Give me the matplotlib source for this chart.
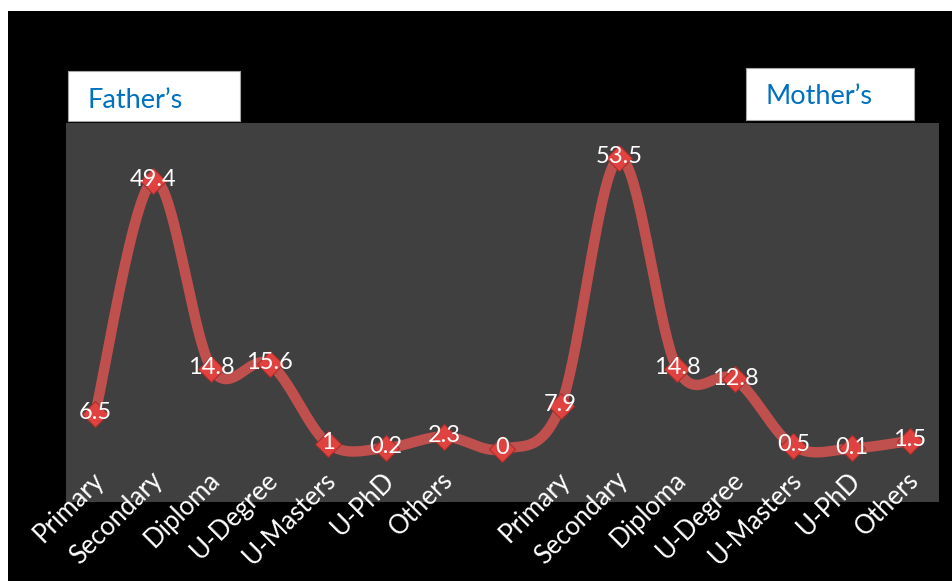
import matplotlib.pyplot as plt
import numpy as np
from matplotlib.patches import Rectangle
from matplotlib.transforms import ScaledTranslation

# education levels of father and mother (%), with a zero spacer between groups
levels = ["Primary", "Secondary", "Diploma", "U-Degree", "U-Masters", "U-PhD", "Others"]
father = [6.5, 49.4, 14.8, 15.6, 1, 0.2, 2.3]
mother = [7.9, 53.5, 14.8, 12.8, 0.5, 0.1, 1.5]
spacer = [0]

values = father + spacer + mother
labels = levels + [""] + levels

plt.rcParams['font.family'] = ['Lato', 'DejaVu Sans']

fig = plt.figure(figsize=(9.53, 5.81), dpi=100)
fig.patch.set_facecolor("white")
W, H = 953, 581
fig.patches.append(Rectangle((8 / W, 0), 1, (H - 11) / H, transform=fig.transFigure,
                             facecolor="black", edgecolor="none", zorder=-10))

ax = fig.add_axes([66 / W, (H - 502) / H, 873 / W, 379 / H])
ax.set_facecolor("#404040")
for s in ax.spines.values():
    s.set_visible(False)

x = np.arange(len(values))
y = np.array(values, dtype=float)


# smoothed line: cubic bezier segments with catmull-rom style control points
def smooth(xs, ys, n=40):
    px, py = [], []
    m = len(xs)
    for i in range(m - 1):
        x0, y0 = xs[i], ys[i]
        x3, y3 = xs[i + 1], ys[i + 1]
        xp, yp = (xs[i - 1], ys[i - 1]) if i > 0 else (x0, y0)
        xn, yn = (xs[i + 2], ys[i + 2]) if i + 2 < m else (x3, y3)
        x1, y1 = x0 + (x3 - xp) / 6, y0 + (y3 - yp) / 6
        x2, y2 = x3 - (xn - x0) / 6, y3 - (yn - y0) / 6
        t = np.linspace(0, 1, n)
        bx = (1 - t) ** 3 * x0 + 3 * (1 - t) ** 2 * t * x1 + 3 * (1 - t) * t ** 2 * x2 + t ** 3 * x3
        by = (1 - t) ** 3 * y0 + 3 * (1 - t) ** 2 * t * y1 + 3 * (1 - t) * t ** 2 * y2 + t ** 3 * y3
        px.extend(bx)
        py.extend(by)
    return np.array(px), np.array(py)


sx, sy = smooth(x, y)
ax.plot(sx, sy, color="#C0504D", lw=7.5, solid_capstyle="round", zorder=2)
ax.plot(x, y, linestyle="none", marker="D", markersize=13, color="#E0433F",
        markeredgecolor="#A82F2C", markeredgewidth=0.8, zorder=3)

for xi, yi in zip(x, y):
    ax.annotate(f"{yi:g}", (xi, yi), xytext=(0, 1), textcoords="offset points",
                ha="center", va="center", color="white", fontsize=17, zorder=4)

ax.set_xlim(-0.5, len(values) - 0.5)
ax.set_ylim(-9.75, 60)
ax.set_yticks([])
ax.set_xticks(x)
ax.set_xticklabels(labels, rotation=45, ha="right", va="top", rotation_mode="anchor",
                   color="white", fontsize=18.5)
ax.tick_params(axis="x", length=0, pad=-25)
shift = ScaledTranslation(-4 / 100, 0, fig.dpi_scale_trans)
for lab in ax.get_xticklabels():
    lab.set_transform(lab.get_transform() + shift)

# group captions
for (x0, y0, x1, y1, tx, ty, name) in [(68, 71, 240, 121, 88, 108, "Father\u2019s"),
                                        (746, 68, 914, 120, 766, 104, "Mother\u2019s")]:
    fig.patches.append(Rectangle((x0 / W, (H - y1) / H), (x1 - x0) / W, (y1 - y0) / H,
                                 transform=fig.transFigure, facecolor="white",
                                 edgecolor="#a6a6a6", lw=0.8, zorder=1))
    fig.text(tx / W, (H - ty) / H, name, color="#0070C0", fontsize=19.5,
             ha="left", va="baseline", zorder=5)

fig.savefig("out.png", dpi=100)
